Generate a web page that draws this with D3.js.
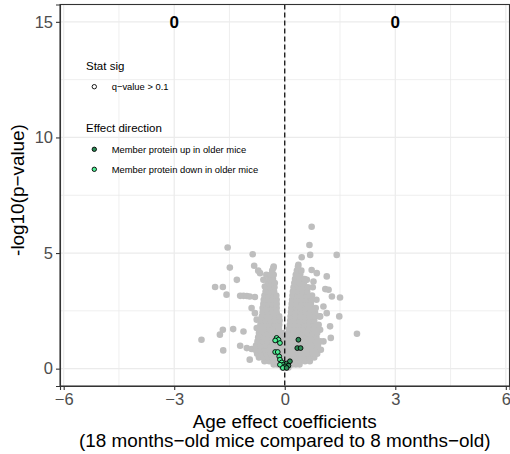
<!DOCTYPE html>
<html>
<head>
<meta charset="utf-8">
<script src="https://cdn.jsdelivr.net/npm/d3@7"></script>
<style>
  body { margin: 0; background: #fff; }
  text { font-family: "Liberation Sans", Arial, Helvetica, sans-serif; }
</style>
</head>
<body>
<div id="main"></div>
<script>
// data
var xTicks = [-6, -3, 0, 3, 6];
var yTicks = [0, 5, 10, 15];
var xMinor = [-4.5, -1.5, 1.5, 4.5];
var yMinor = [2.5, 7.5, 12.5];

// labels placed at (-3,15) and (3,15)
var countLabels = [[-3, 15, "0"], [3, 15, "0"]];

// outlying grey points [coef, -log10 p]
var grayOutliers = [
  [0.73, 6.14], [0.67, 5.35], [-1.55, 5.24], [-0.87, 4.95], [1.41, 4.92], [0.69, 4.92],
  [0.46, 4.82], [-1.49, 4.37], [-0.83, 4.45], [-0.72, 4.24], [-1.89, 3.53], [-1.68, 3.53],
  [-1.30, 3.84], [-1.58, 3.20], [1.50, 3.08], [1.14, 3.99], [1.10, 3.44], [1.96, 1.51],
  [-2.26, 1.25], [-1.67, 0.79], [1.48, 2.26], [1.25, 1.33], [-1.40, 1.71], [-1.12, 1.61],
  [-1.68, 1.68], [-1.76, 1.47], [-1.21, 0.99], [-1.03, 0.89], [-0.90, 0.85], [-0.95, 0.39],
  [-0.72, 0.68], [-1.21, 3.15], [-1.12, 3.15], [-1.03, 3.14], [-0.95, 3.12], [-0.81, 3.10],
  [-0.90, 2.62], [-0.81, 2.40], [-0.76, 2.12], [-0.76, 1.76], [-0.54, 3.55], [-0.58, 3.84],
  [-0.50, 4.06], [-0.67, 4.13], [1.19, 3.41], [1.28, 3.12], [1.05, 2.69], [1.14, 2.40],
  [0.96, 2.26], [1.23, 1.83], [0.96, 1.68], [0.78, 3.77], [0.87, 4.13], [0.73, 4.27],
  [0.60, 3.84], [1.05, 1.18], [0.78, 0.75], [-0.31, 4.35], [0.37, 4.49]
];

// dense core of the cloud, one row per -log10 p level: [level, coefs]
var grayCore = [
  [0.05, [-0.06, 0.04, 0.10]],
  [0.18, [-0.30, -0.20, -0.10, 0.00, 0.10, 0.20, 0.30, 0.40]],
  [0.32, [-0.55, -0.42, -0.30, -0.18, -0.06, 0.06, 0.18, 0.30, 0.42, 0.55, 0.68]],
  [0.48, [-0.70, -0.58, -0.45, -0.32, -0.20, -0.08, 0.05, 0.17, 0.30, 0.42, 0.55, 0.68, 0.80]],
  [0.65, [-0.75, -0.62, -0.50, -0.38, -0.25, -0.12, 0.00, 0.12, 0.25, 0.38, 0.50, 0.63, 0.76, 0.88]],
  [0.82, [-0.80, -0.67, -0.54, -0.41, -0.28, -0.15, -0.02, 0.10, 0.23, 0.36, 0.49, 0.62, 0.75, 0.88, 0.98]],
  [1.00, [-0.78, -0.65, -0.52, -0.39, -0.26, -0.13, 0.00, 0.13, 0.26, 0.39, 0.52, 0.65, 0.78, 0.90]],
  [1.18, [-0.74, -0.60, -0.47, -0.34, -0.21, -0.08, 0.06, 0.19, 0.32, 0.45, 0.58, 0.71, 0.84, 0.96]],
  [1.36, [-0.72, -0.58, -0.45, -0.32, -0.19, -0.06, 0.08, 0.21, 0.34, 0.47, 0.60, 0.73, 0.86]],
  [1.54, [-0.70, -0.56, -0.43, -0.30, -0.17, -0.05, 0.10, 0.23, 0.36, 0.49, 0.62, 0.75, 0.88]],
  [1.72, [-0.68, -0.55, -0.42, -0.29, -0.16, 0.12, 0.25, 0.38, 0.51, 0.64, 0.77, 0.90]],
  [1.90, [-0.66, -0.53, -0.40, -0.27, -0.15, 0.14, 0.27, 0.40, 0.53, 0.66, 0.79, 0.92]],
  [2.08, [-0.64, -0.51, -0.38, -0.25, -0.14, 0.15, 0.28, 0.41, 0.54, 0.67, 0.80]],
  [2.26, [-0.62, -0.49, -0.36, -0.24, -0.15, 0.16, 0.29, 0.42, 0.55, 0.68, 0.81, 0.94]],
  [2.44, [-0.60, -0.47, -0.34, -0.22, 0.17, 0.30, 0.43, 0.56, 0.69, 0.82]],
  [2.62, [-0.60, -0.47, -0.34, -0.22, 0.18, 0.31, 0.44, 0.57, 0.70, 0.84]],
  [2.80, [-0.58, -0.45, -0.33, -0.22, 0.19, 0.32, 0.45, 0.58, 0.71]],
  [2.98, [-0.57, -0.44, -0.32, -0.22, 0.20, 0.33, 0.46, 0.59, 0.72, 0.86]],
  [3.16, [-0.55, -0.43, -0.31, -0.23, 0.21, 0.34, 0.47, 0.60, 0.74]],
  [3.34, [-0.52, -0.40, -0.29, 0.22, 0.35, 0.48, 0.61]],
  [3.52, [-0.50, -0.38, -0.28, 0.24, 0.37, 0.50, 0.63, 0.76]],
  [3.70, [-0.46, -0.35, -0.27, 0.26, 0.39, 0.52]],
  [3.88, [-0.42, -0.32, 0.28, 0.41, 0.54]],
  [4.06, [-0.38, -0.30, 0.30, 0.42]],
  [4.24, [-0.34, 0.33, 0.45]],
  [4.42, [-0.30, 0.36]]
];

// member proteins (q-value > 0.1), coloured by effect direction
var memberX = [-0.22, -0.17, -0.26, -0.13, 0.37, 0.34, 0.43, -0.26, -0.19, -0.15,
               -0.13, -0.08, -0.04, 0.05, 0.14, 0.10, 0.01, -0.13, -0.05, 0.05];
var memberY = [1.33, 1.25, 1.22, 1.11, 1.25, 0.89, 0.89, 0.72, 0.72, 0.53,
               0.39, 0.27, 0.17, 0.22, 0.32, 0.13, 0.10, 0.17, 0.03, 0.03];

var legendDirections = ["Member protein up in older mice", "Member protein down in older mice"];
var directionColors = ["#2E8B57", "#4EEE94"];

var width = 510, height = 454;
var padL = 60, padR = 509.5, padT = 4.5, padB = 386;

var svg = d3.select("#main").append("svg")
    .attr("width", width)
    .attr("height", height);

var x = d3.scaleLinear().domain([-6.1, 6.1]).range([padL, padR]);
var y = d3.scaleLinear().domain([-0.75, 15.75]).range([padB, padT]);

// grid
var grid = svg.append("g");
grid.selectAll(".vminor").data(xMinor).enter().append("line")
    .attr("x1", d => x(d)).attr("x2", d => x(d)).attr("y1", padT).attr("y2", padB)
    .attr("stroke", "#EBEBEB").attr("stroke-width", 0.8);
grid.selectAll(".hminor").data(yMinor).enter().append("line")
    .attr("y1", d => y(d)).attr("y2", d => y(d)).attr("x1", padL).attr("x2", padR)
    .attr("stroke", "#EBEBEB").attr("stroke-width", 0.8);
grid.selectAll(".vmajor").data(xTicks).enter().append("line")
    .attr("x1", d => x(d)).attr("x2", d => x(d)).attr("y1", padT).attr("y2", padB)
    .attr("stroke", "#EBEBEB").attr("stroke-width", 1.2);
grid.selectAll(".hmajor").data(yTicks).enter().append("line")
    .attr("y1", d => y(d)).attr("y2", d => y(d)).attr("x1", padL).attr("x2", padR)
    .attr("stroke", "#EBEBEB").attr("stroke-width", 1.2);

// grey points
var grayPoints = grayOutliers.slice();
grayCore.forEach(function(row) {
  row[1].forEach(function(c) { grayPoints.push([c, row[0]]); });
});
svg.append("g").selectAll("circle").data(grayPoints).enter().append("circle")
    .attr("cx", d => x(d[0]))
    .attr("cy", d => y(d[1]))
    .attr("r", 3.3)
    .attr("fill", "#BEBEBE");

// dashed zero line
svg.append("line")
    .attr("x1", x(0)).attr("x2", x(0))
    .attr("y1", padT).attr("y2", padB)
    .attr("stroke", "#000")
    .attr("stroke-width", 1.2)
    .attr("stroke-dasharray", "5,3");

// member proteins
svg.append("g").selectAll("circle").data(memberX).enter().append("circle")
    .attr("cx", d => x(d))
    .attr("cy", (d, i) => y(memberY[i]))
    .attr("r", 2.4)
    .attr("fill", d => d > 0 ? directionColors[0] : directionColors[1])
    .attr("stroke", "#000")
    .attr("stroke-width", 0.9);

// count labels
svg.selectAll(".count").data(countLabels).enter().append("text")
    .attr("x", d => x(d[0]))
    .attr("y", d => y(d[1]))
    .attr("dy", "0.36em")
    .attr("text-anchor", "middle")
    .attr("font-size", 17)
    .attr("font-weight", "bold")
    .attr("fill", "#000")
    .text(d => d[2]);

// panel border
svg.append("rect")
    .attr("x", padL).attr("y", padT)
    .attr("width", padR - padL).attr("height", padB - padT)
    .attr("fill", "none")
    .attr("stroke", "#333333")
    .attr("stroke-width", 1.1);

// axes
var xAxis = svg.append("g")
    .attr("transform", "translate(0," + padB + ")")
    .call(d3.axisBottom(x).tickValues(xTicks).tickSize(4).tickPadding(3).tickFormat(d3.format("")));
var yAxis = svg.append("g")
    .attr("transform", "translate(" + padL + ",0)")
    .call(d3.axisLeft(y).tickValues(yTicks).tickSize(4).tickPadding(3));
[xAxis, yAxis].forEach(function(a) {
  a.select(".domain").attr("stroke", "#333333").attr("stroke-width", 1.1);
  a.selectAll(".tick line").attr("stroke", "#333333").attr("stroke-width", 1.1);
  a.selectAll(".tick text").attr("fill", "#4D4D4D").attr("font-size", 16.5)
    .style("font-family", '"Liberation Sans", Arial, sans-serif');
});
xAxis.selectAll(".tick text").text(d => d < 0 ? "\u2212" + Math.abs(d) : d);

// axis titles
svg.append("text")
    .attr("x", (padL + padR) / 2).attr("y", 428)
    .attr("text-anchor", "middle").attr("font-size", 18.9)
    .text("Age effect coefficients");
svg.append("text")
    .attr("x", (padL + padR) / 2).attr("y", 446.5)
    .attr("text-anchor", "middle").attr("font-size", 18.9)
    .text("(18 months\u2212old mice compared to 8 months\u2212old)");
svg.append("text")
    .attr("transform", "translate(24,190) rotate(-90)")
    .attr("text-anchor", "middle").attr("font-size", 18.9)
    .text("-log10(p\u2212value)");

// legend
var legend = svg.append("g");
legend.append("text").attr("x", 86).attr("y", 69.5).attr("font-size", 11.5).text("Stat sig");
legend.append("circle").attr("cx", 94.3).attr("cy", 86.7).attr("r", 2.2)
    .attr("fill", "#fff").attr("stroke", "#000").attr("stroke-width", 0.9);
legend.append("text").attr("x", 111.7).attr("y", 90).attr("font-size", 9.4).text("q\u2212value > 0.1");
legend.append("text").attr("x", 86).attr("y", 132).attr("font-size", 11.5).text("Effect direction");
legend.selectAll(".dir").data(legendDirections).enter().append("circle")
    .attr("cx", 94.3).attr("cy", (d, i) => 149.3 + i * 20)
    .attr("r", 2.2)
    .attr("fill", (d, i) => directionColors[i])
    .attr("stroke", "#000").attr("stroke-width", 0.9);
legend.selectAll(".dirlab").data(legendDirections).enter().append("text")
    .attr("x", 111.7).attr("y", (d, i) => 152.6 + i * 20)
    .attr("font-size", 9.4)
    .text(d => d);
</script>
</body>
</html>
